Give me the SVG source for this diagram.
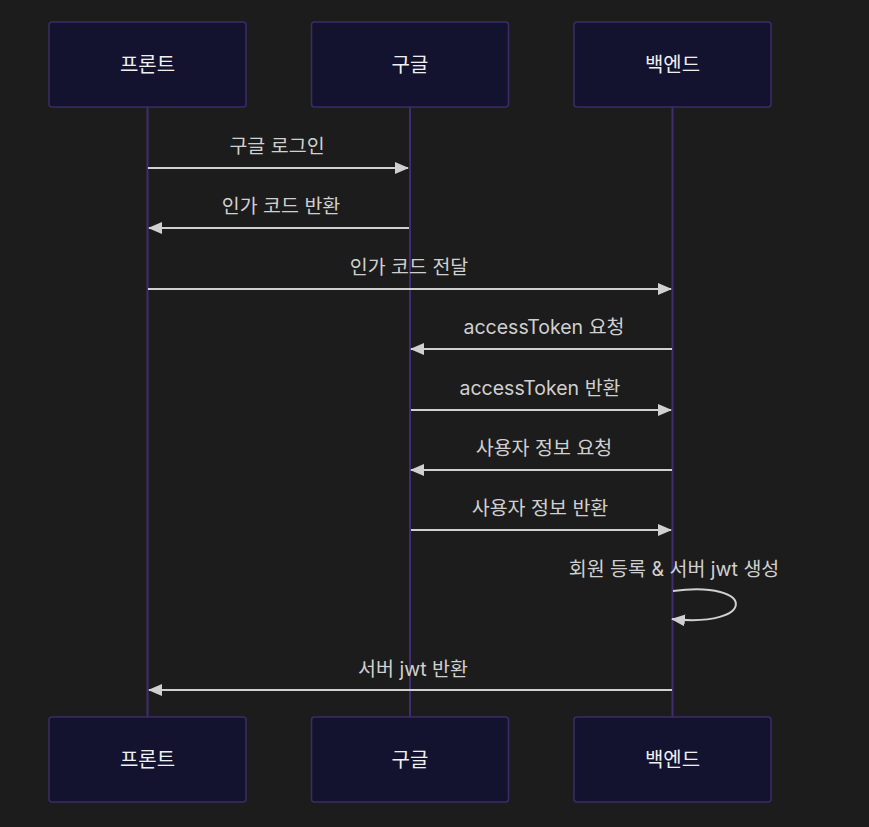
<svg xmlns="http://www.w3.org/2000/svg" width="869" height="827" viewBox="0 0 869 827">
<defs>
<style>
.actor{fill:#131330;stroke:#3a2c66;stroke-width:1.5}
.life{stroke:#3f2c72;stroke-width:2}
.atext{fill:#f0f0f0;font-family:Inter,"Noto Sans CJK KR",sans-serif;font-size:20px;text-anchor:middle;dominant-baseline:central}
.msg{stroke:#d0d0d0;stroke-width:2;fill:none}
.mtext{fill:#d0d0d0;font-family:Inter,"Noto Sans CJK KR",sans-serif;font-size:19.5px;text-anchor:middle}
</style>
<marker id="ah" viewBox="0 0 14 12" refX="13" refY="6" markerWidth="14" markerHeight="12" markerUnits="userSpaceOnUse" orient="auto">
<path d="M0,0 L14,6 L0,12 z" fill="#d0d0d0"/>
</marker>
</defs>
<rect width="869" height="827" fill="#1c1c1c"/>
<g id="lifelines">
<line class="life" x1="147.5" y1="107" x2="147.5" y2="717"/>
<line class="life" x1="410" y1="107" x2="410" y2="717"/>
<line class="life" x1="672.5" y1="107" x2="672.5" y2="717"/>
</g>
<g id="actor-front-top"><rect class="actor" x="49" y="22" width="197" height="85" rx="3"/><text class="atext" x="147.5" y="65">프론트</text></g>
<g id="actor-google-top"><rect class="actor" x="311.5" y="22" width="197" height="85" rx="3"/><text class="atext" x="410" y="65">구글</text></g>
<g id="actor-back-top"><rect class="actor" x="574" y="22" width="197" height="85" rx="3"/><text class="atext" x="672.5" y="65">백엔드</text></g>
<g id="actor-front-bottom"><rect class="actor" x="49" y="717" width="197" height="85" rx="3"/><text class="atext" x="147.5" y="760">프론트</text></g>
<g id="actor-google-bottom"><rect class="actor" x="311.5" y="717" width="197" height="85" rx="3"/><text class="atext" x="410" y="760">구글</text></g>
<g id="actor-back-bottom"><rect class="actor" x="574" y="717" width="197" height="85" rx="3"/><text class="atext" x="672.5" y="760">백엔드</text></g>
<g id="connectors">
<line class="msg" x1="148" y1="168" x2="408" y2="168" marker-end="url(#ah)"/>
<line class="msg" x1="409" y1="228" x2="149" y2="228" marker-end="url(#ah)"/>
<line class="msg" x1="148" y1="289" x2="671" y2="289" marker-end="url(#ah)"/>
<line class="msg" x1="672" y1="349" x2="411" y2="349" marker-end="url(#ah)"/>
<line class="msg" x1="411" y1="410" x2="671" y2="410" marker-end="url(#ah)"/>
<line class="msg" x1="672" y1="470" x2="411" y2="470" marker-end="url(#ah)"/>
<line class="msg" x1="411" y1="530" x2="671" y2="530" marker-end="url(#ah)"/>
<path class="msg" d="M673,591 C757,580 757,628 672,619" marker-end="url(#ah)"/>
<line class="msg" x1="672" y1="690" x2="149" y2="690" marker-end="url(#ah)"/>
</g>
<g id="labels">
<text class="mtext" x="277" y="153">구글 로그인</text>
<text class="mtext" x="281" y="213">인가 코드 반환</text>
<text class="mtext" x="409" y="274">인가 코드 전달</text>
<text class="mtext" x="544" y="334">accessToken 요청</text>
<text class="mtext" x="540" y="395">accessToken 반환</text>
<text class="mtext" x="544" y="455">사용자 정보 요청</text>
<text class="mtext" x="540" y="515">사용자 정보 반환</text>
<text class="mtext" x="674" y="576">회원 등록 &amp; 서버 jwt 생성</text>
<text class="mtext" x="413" y="676">서버 jwt 반환</text>
</g>
</svg>
